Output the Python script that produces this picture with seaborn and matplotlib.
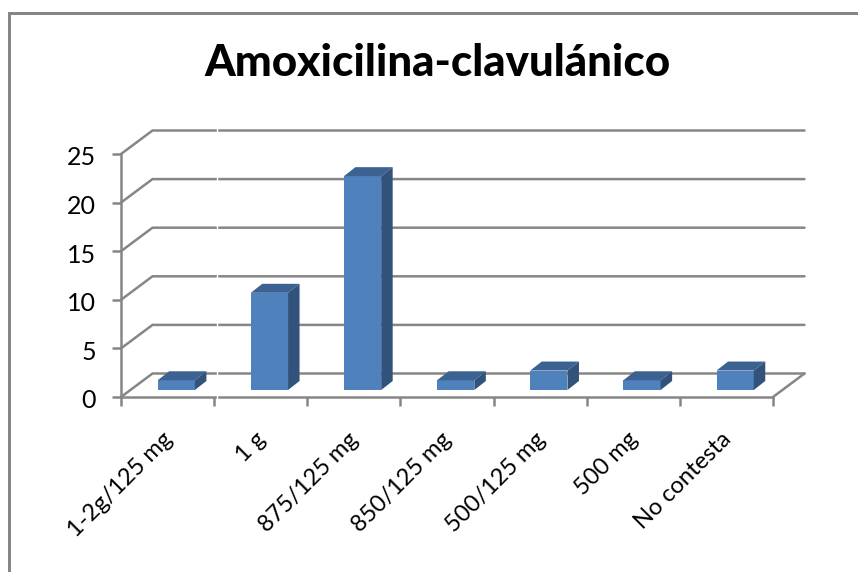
import matplotlib
matplotlib.use("Agg")
import matplotlib.pyplot as plt
from matplotlib.lines import Line2D
from matplotlib.patches import Polygon
from matplotlib.transforms import Affine2D
import seaborn as sns
import pandas as pd

categories = ["1-2g/125 mg", "1 g", "875/125 mg", "850/125 mg", "500/125 mg", "500 mg", "No contesta"]
values = [1, 10, 22, 1, 2, 1, 2]
y_ticks = [0, 5, 10, 15, 20, 25]
title = "Amoxicilina-clavulánico"

GRAY = "#868686"
FRONT, TOP, SIDE = "#4F81BD", "#3C6291", "#31527A"
W, H = 858, 572
sns.set_theme(style="white")
plt.rcParams["font.family"] = ["Lato", "DejaVu Sans"]

fig = plt.figure(figsize=(W / 100, H / 100), dpi=100, facecolor="white")
L, R, Y0, Y25 = 121, 773, 397, 154
ax = fig.add_axes([L / W, 1 - Y0 / H, (R - L) / W, (Y0 - Y25) / H])
ax.patch.set_alpha(0)

df = pd.DataFrame({"cat": categories, "val": values})
sns.barplot(data=df, x="cat", y="val", color=FRONT, saturation=1, width=0.4, ax=ax, zorder=4,
            linewidth=0, edgecolor=FRONT)
ax.set_xlim(-0.5, 6.5)
ax.set_ylim(0, 25)
ax.set_xlabel("")
ax.set_ylabel("")

px, py = (R - L) / 7, (Y0 - Y25) / 25     # pixels per data unit
lw = 2.5 * 72 / 100

# wall depth and bar position inside the depth, in data units
wall_dx, wall_dy = 31.5 / px, 23.5 / py
bar_dx, bar_dy = 8.7 / px, 7.0 / py
depth_dx, depth_dy = 11.5 / px, 9.0 / py

x0, x1 = ax.get_xlim()
for v in y_ticks:
    ax.plot([x0, x0 + wall_dx, x1 + wall_dx], [v, v + wall_dy, v + wall_dy],
            color=GRAY, lw=lw, clip_on=False, zorder=1, solid_joinstyle="miter")
ax.plot([x1, x1 + wall_dx], [0, wall_dy], color=GRAY, lw=lw, clip_on=False, zorder=1)
ax.axvline(0.536, ymin=-0.02, ymax=1.12, color="white", lw=1.0, clip_on=False, zorder=3)

shift = Affine2D().translate(bar_dx, bar_dy) + ax.transData
for bar in list(ax.patches):
    bar.set_transform(shift)
    bar.set_clip_on(False)
    bx0, bx1, h = bar.get_x(), bar.get_x() + bar.get_width(), bar.get_height()
    ax.add_patch(Polygon([(bx0, h), (bx1, h), (bx1 + depth_dx, h + depth_dy), (bx0 + depth_dx, h + depth_dy)],
                         closed=True, fc=TOP, ec="none", transform=shift, clip_on=False, zorder=4))
    ax.add_patch(Polygon([(bx1, 0), (bx1 + depth_dx, depth_dy), (bx1 + depth_dx, h + depth_dy), (bx1, h)],
                         closed=True, fc=SIDE, ec="none", transform=shift, clip_on=False, zorder=4))

for s in ("top", "right"):
    ax.spines[s].set_visible(False)
for s in ("left", "bottom"):
    ax.spines[s].set_color(GRAY)
    ax.spines[s].set_linewidth(lw)

ax.set_yticks(y_ticks)
ax.tick_params(axis="y", left=True, length=6.2, width=lw, color=GRAY, labelsize=18, labelcolor="black", pad=12)
ax.set_xticks(range(len(categories)))
ax.set_xticklabels(categories, rotation=45, ha="right", va="top", rotation_mode="anchor", fontsize=17, color="black")
ax.tick_params(axis="x", which="major", bottom=False, pad=19)
ax.set_xticks([i - 0.5 for i in range(len(categories) + 1)], minor=True)
ax.tick_params(axis="x", which="minor", bottom=True, length=6.2, width=lw, color=GRAY)

for label in ax.get_xticklabels():
    label.set_transform(label.get_transform() + Affine2D().translate(-6, 3))
for label in ax.get_yticklabels():
    label.set_transform(label.get_transform() + Affine2D().translate(0, -2))

fig.text(437.5 / W, 1 - 63 / H, title, ha="center", va="center", fontsize=31.6, fontweight="black", color="black")
fig.add_artist(Line2D([8.5 / W, 8.5 / W, 1], [0, 1 - 12.5 / H, 1 - 12.5 / H], color=GRAY, lw=3 * 72 / 100,
                      solid_joinstyle="miter", transform=fig.transFigure))
fig.savefig("out.png", dpi=100)
